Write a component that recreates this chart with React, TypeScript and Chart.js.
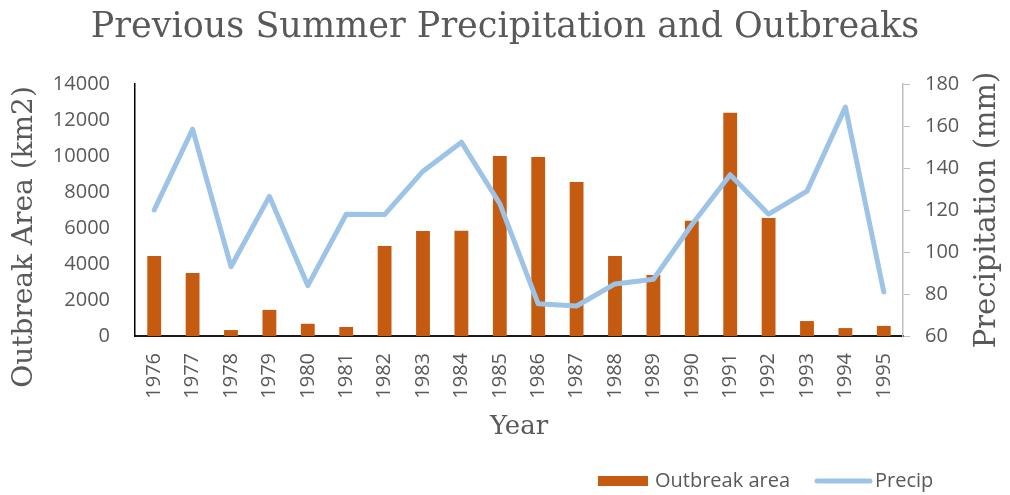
import React, { useEffect, useRef } from "react";
import { Chart, registerables } from "chart.js";

Chart.register(...registerables);

const years = ["1976","1977","1978","1979","1980","1981","1982","1983","1984","1985","1986","1987","1988","1989","1990","1991","1992","1993","1994","1995"];
const outbreakArea = [4450, 3500, 330, 1450, 680, 500, 5000, 5830, 5850, 10000, 9950, 8550, 4450, 3390, 6400, 12400, 6550, 830, 440, 560];
const precip = [120, 158.5, 93, 126.5, 84, 118, 117.8, 138.5, 152.3, 123, 75.3, 74.3, 84.8, 87, 113, 136.8, 118, 129, 169, 81];
const leftTicks = [0, 14000, 2000];
const rightTicks = [60, 180, 20];

const TITLE = "Previous Summer Precipitation and Outbreaks";
const LEFT_TITLE = "Outbreak Area (km2)";
const RIGHT_TITLE = "Precipitation (mm)";
const X_TITLE = "Year";
const SERIES_NAMES = ["Outbreak area", "Precip"];

const BAR_COLOR = "#c55a11";
const LINE_COLOR = "#9dc3e6";
const TEXT = "#595959";
const SERIF = "'DejaVu Serif', serif";
const SANS = "'Open Sans', sans-serif";

const extrasPlugin = {
  id: "extras",
  afterDraw(chart: any) {
    const ctx = chart.ctx;
    const area = chart.chartArea;
    ctx.save();
    ctx.fillStyle = TEXT;
    ctx.textAlign = "center";
    ctx.textBaseline = "middle";
    // left axis title
    ctx.font = `28px ${SERIF}`;
    ctx.save();
    ctx.translate(25, 237);
    ctx.rotate(-Math.PI / 2);
    ctx.fillText(LEFT_TITLE, 0, 0);
    ctx.restore();
    // right axis title
    ctx.font = `29px ${SERIF}`;
    ctx.save();
    ctx.translate(987, (area.top + area.bottom) / 2);
    ctx.rotate(-Math.PI / 2);
    ctx.fillText(RIGHT_TITLE, 0, 0);
    ctx.restore();
    // legend
    const ly = 481;
    ctx.fillStyle = BAR_COLOR;
    ctx.fillRect(598, ly - 5, 50, 10);
    ctx.fillStyle = TEXT;
    ctx.font = `20px ${SANS}`;
    ctx.textAlign = "left";
    ctx.fillText(SERIES_NAMES[0], 655, ly);
    ctx.strokeStyle = LINE_COLOR;
    ctx.lineWidth = 5;
    ctx.lineCap = "round";
    ctx.beginPath();
    ctx.moveTo(817, ly);
    ctx.lineTo(870, ly);
    ctx.stroke();
    ctx.fillText(SERIES_NAMES[1], 875, ly);
    ctx.restore();
  },
};

export default function App() {
  const ref = useRef<HTMLCanvasElement | null>(null);
  useEffect(() => {
    if (!ref.current) return;
    const chart = new Chart(ref.current, {
      type: "bar",
      data: {
        labels: years,
        datasets: [
          {
            type: "line",
            label: SERIES_NAMES[1],
            data: precip,
            yAxisID: "y1",
            borderColor: LINE_COLOR,
            backgroundColor: LINE_COLOR,
            borderWidth: 5,
            pointRadius: 0,
            borderJoinStyle: "round",
            borderCapStyle: "round",
            tension: 0,
            order: 0,
          } as any,
          {
            type: "bar",
            label: SERIES_NAMES[0],
            data: outbreakArea,
            yAxisID: "y",
            backgroundColor: BAR_COLOR,
            categoryPercentage: 1,
            barPercentage: 0.36,
            order: 1,
          },
        ],
      },
      options: {
        animation: false,
        responsive: true,
        maintainAspectRatio: false,
        layout: { padding: { left: 0, right: 0, top: 0, bottom: 49 } },
        plugins: {
          legend: { display: false },
          tooltip: { enabled: false },
          title: {
            display: true,
            text: TITLE,
            color: TEXT,
            font: { family: SERIF, size: 35, weight: "normal", lineHeight: 1 },
            padding: { top: 10.5, bottom: 38.5 },
          },
        },
        scales: {
          x: {
            grid: { display: false, drawTicks: false },
            border: { display: true, color: "#1a1a1a", width: 2 },
            ticks: {
              color: TEXT,
              font: { family: SANS, size: 20 },
              minRotation: 90,
              maxRotation: 90,
              padding: 17,
              autoSkip: false,
            },
            title: {
              display: true,
              text: X_TITLE,
              color: TEXT,
              font: { family: SERIF, size: 26, lineHeight: 1 },
              padding: { top: 0, bottom: 6 },
            },
            afterFit(scale: any) { scale.height = 110; },
          },
          y: {
            position: "left",
            min: leftTicks[0],
            max: leftTicks[1],
            grid: { display: false, drawTicks: false },
            border: { display: true, color: "#000000", width: 1.5 },
            ticks: {
              stepSize: leftTicks[2],
              color: TEXT,
              font: { family: SANS, size: 20 },
              padding: 25,
              callback: (v: any) => String(v),
            },
            afterFit(scale: any) { scale.width = 135; },
          },
          y1: {
            position: "right",
            min: rightTicks[0],
            max: rightTicks[1],
            grid: { display: true, drawOnChartArea: false, drawTicks: true, tickLength: 7, color: "#bfbfbf" },
            border: { display: true, color: "#bfbfbf", width: 1.5 },
            ticks: {
              stepSize: rightTicks[2],
              color: TEXT,
              font: { family: SANS, size: 20 },
              padding: 15,
              callback: (v: any) => String(v),
            },
            afterFit(scale: any) { scale.width = 107; },
          },
        },
      },
      plugins: [extrasPlugin],
    });
    return () => chart.destroy();
  }, []);
  return (
    <div style={{ position: "absolute", left: 0, top: 0, width: 1010, height: 495 }}>
      <canvas ref={ref} />
    </div>
  );
}
